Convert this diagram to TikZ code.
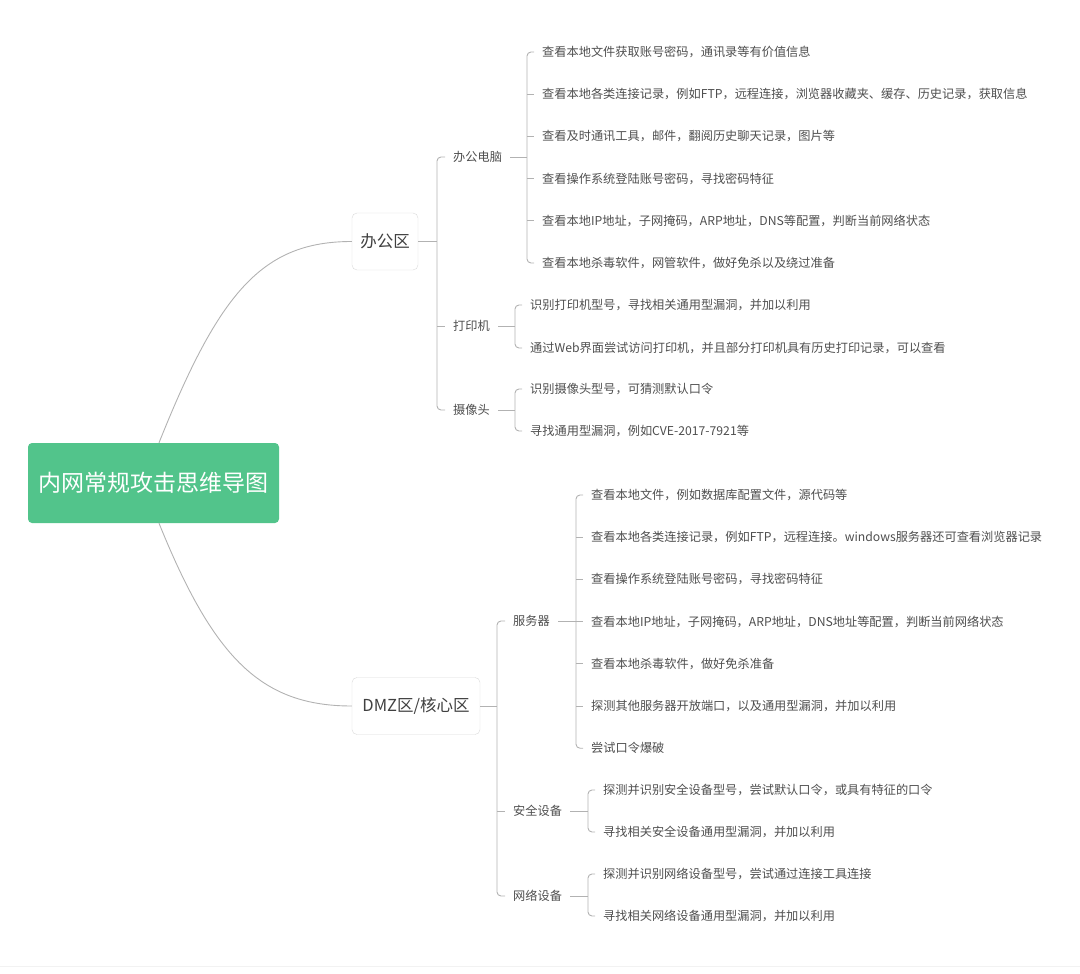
\documentclass[tikz,border=0pt]{standalone}
\usepackage{fontspec}
\setmainfont{Noto Sans CJK SC}
\usetikzlibrary{positioning}
\definecolor{mindgreen}{RGB}{82,196,139}
\definecolor{linkgray}{RGB}{178,178,178}
\definecolor{textgray}{RGB}{78,78,78}
\definecolor{boxgray}{RGB}{218,218,218}

\begin{document}
\begin{tikzpicture}[x=1pt, y=-1pt,
    root/.style={rectangle, rounded corners=4pt, fill=mindgreen, text=white, minimum width=251pt, minimum height=80pt, font=\fontsize{23}{27}\selectfont},
    zone/.style={rectangle, rounded corners=5pt, draw=boxgray, fill=white, minimum height=57pt, inner xsep=8pt, text=black!75, font=\fontsize{16.5}{20}\selectfont},
    branch/.style={anchor=west, inner sep=0pt, text=textgray, font=\fontsize{12.2}{15}\selectfont},
    leaf/.style={branch},
    link/.style={draw=linkgray, line width=0.9pt},
    fork/.style={link, rounded corners=4pt}]

\useasboundingbox (0,0) rectangle (1080,974);
\draw[black!5, line width=1pt] (0,966) -- (1080,966);

% centre and the two zones
\node[root] (root) at (153.5, 483) {内网常规攻击思维导图};
\node[zone, minimum width=66pt] (office) at (385, 241.5) {办公区};
\node[zone, minimum width=128pt] (dmz) at (416, 706) {DMZ区/核心区};

\draw[link] ([xshift=5.5pt]root.north) .. controls +(60,-150) and +(-90,0) .. (office.west);
\draw[link] ([xshift=5.5pt]root.south) .. controls +(55,136) and +(-90,0) .. (dmz.west);

% office zone
\node[branch] (pc) at (453, 157) {办公电脑};
\node[branch] (printer) at (453, 326) {打印机};
\node[branch] (camera) at (453, 410) {摄像头};

\foreach \txt [count=\i] in {查看本地文件获取账号密码，通讯录等有价值信息,
    查看本地各类连接记录，例如FTP，远程连接，浏览器收藏夹、缓存、历史记录，获取信息,
    查看及时通讯工具，邮件，翻阅历史聊天记录，图片等,
    查看操作系统登陆账号密码，寻找密码特征,
    查看本地IP地址，子网掩码，ARP地址，DNS等配置，判断当前网络状态,
    查看本地杀毒软件，网管软件，做好免杀以及绕过准备}
  \node[leaf] (pc\i) at (542, {52+42.2*(\i-1)}) {\txt};

\node[leaf] (printer1) at (530, 305) {识别打印机型号，寻找相关通用型漏洞，并加以利用};
\node[leaf] (printer2) at (530, 348) {通过Web界面尝试访问打印机，并且部分打印机具有历史打印记录，可以查看};
\node[leaf] (camera1) at (530, 389) {识别摄像头型号，可猜测默认口令};
\node[leaf] (camera2) at (530, 431) {寻找通用型漏洞，例如CVE-2017-7921等};

\coordinate (offbar) at ([xshift=-16pt]pc.west);
\draw[link] (office.east) -- (offbar |- office.east);
\draw[fork] ([xshift=-8pt]pc.west) -- (offbar) |- ([xshift=-8pt]camera.west);
\draw[link] ([xshift=-16pt]printer.west) -- ([xshift=-8pt]printer.west);

\coordinate (pcbar) at ([xshift=-15pt]pc1.west);
\draw[link] ([xshift=8pt]pc.east) -- (pcbar |- pc.east);
\draw[fork] ([xshift=-8pt]pc1.west) -- (pcbar) |- ([xshift=-8pt]pc6.west);
\foreach \i in {2,...,5}
  \draw[link] ([xshift=-15pt]pc\i.west) -- ([xshift=-8pt]pc\i.west);

\foreach \dev in {printer, camera} {
  \coordinate (\dev bar) at ([xshift=-15pt]\dev1.west);
  \draw[link] ([xshift=8pt]\dev.east) -- (\dev bar |- \dev.east);
  \draw[fork] ([xshift=-8pt]\dev1.west) -- (\dev bar) |- ([xshift=-8pt]\dev2.west);
}

% dmz / core zone
\node[branch] (server) at (513, 621) {服务器};
\node[branch] (secdev) at (513, 811) {安全设备};
\node[branch] (netdev) at (513, 896) {网络设备};

\foreach \txt [count=\i] in {查看本地文件，例如数据库配置文件，源代码等,
    查看本地各类连接记录，例如FTP，远程连接。windows服务器还可查看浏览器记录,
    查看操作系统登陆账号密码，寻找密码特征,
    查看本地IP地址，子网掩码，ARP地址，DNS地址等配置，判断当前网络状态,
    查看本地杀毒软件，做好免杀准备,
    探测其他服务器开放端口，以及通用型漏洞，并加以利用,
    尝试口令爆破}
  \node[leaf] (server\i) at (591, {495+42.2*(\i-1)}) {\txt};

\node[leaf] (secdev1) at (603, 790) {探测并识别安全设备型号，尝试默认口令，或具有特征的口令};
\node[leaf] (secdev2) at (603, 832) {寻找相关安全设备通用型漏洞，并加以利用};
\node[leaf] (netdev1) at (603, 874) {探测并识别网络设备型号，尝试通过连接工具连接};
\node[leaf] (netdev2) at (603, 916) {寻找相关网络设备通用型漏洞，并加以利用};

\coordinate (dmzbar) at ([xshift=-16pt]server.west);
\draw[link] (dmz.east) -- (dmzbar |- dmz.east);
\draw[fork] ([xshift=-8pt]server.west) -- (dmzbar) |- ([xshift=-8pt]netdev.west);
\draw[link] ([xshift=-16pt]secdev.west) -- ([xshift=-8pt]secdev.west);

\coordinate (serverbar) at ([xshift=-15pt]server1.west);
\draw[link] ([xshift=8pt]server.east) -- (serverbar |- server.east);
\draw[fork] ([xshift=-8pt]server1.west) -- (serverbar) |- ([xshift=-8pt]server7.west);
\foreach \i in {2,...,6}
  \draw[link] ([xshift=-15pt]server\i.west) -- ([xshift=-8pt]server\i.west);

\foreach \dev in {secdev, netdev} {
  \coordinate (\dev bar) at ([xshift=-15pt]\dev1.west);
  \draw[link] ([xshift=8pt]\dev.east) -- (\dev bar |- \dev.east);
  \draw[fork] ([xshift=-8pt]\dev1.west) -- (\dev bar) |- ([xshift=-8pt]\dev2.west);
}

\end{tikzpicture}
\end{document}
